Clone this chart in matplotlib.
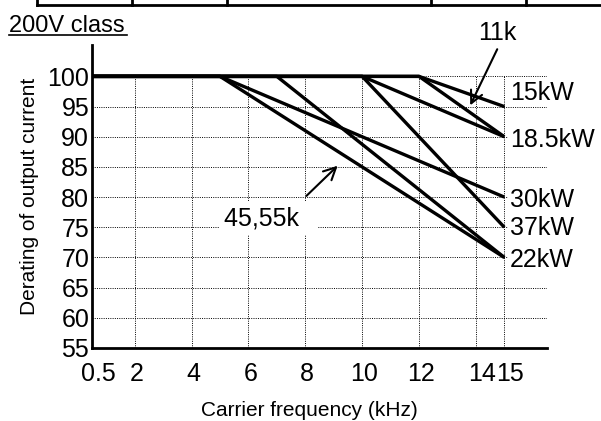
import matplotlib
matplotlib.use("Agg")
import matplotlib.pyplot as plt
from matplotlib.lines import Line2D
from matplotlib.transforms import ScaledTranslation

plt.rcParams["font.family"] = ["Liberation Sans", "DejaVu Sans"]

# derating curves: flat at 100 % up to the knee, then straight down to 15 kHz
series = ["11k", "15kW", "18.5kW", "22kW", "30kW", "37kW", "45,55k"]
knee_khz = [12, 12, 10, 7, 5, 10, 5]
end_pct = [90, 95, 90, 70, 80, 75, 70]
f_start = 0.5
f_end = 15

# labels drawn at the right end of the curves
right_labels = ["15kW", "18.5kW", "30kW", "37kW", "22kW"]
right_label_y = [97.3, 89.5, 79.5, 74.8, 69.5]

x_ticks = [0.5, 2, 4, 6, 8, 10, 12, 14, 15]
x_tick_labels = ["0.5", "2", "4", "6", "8", "10", "12", "14", "15"]
y_ticks = [55, 60, 65, 70, 75, 80, 85, 90, 95, 100]

fig = plt.figure(figsize=(6.01, 4.21), dpi=100)
ax = fig.add_axes([92 / 601, 73 / 421, 455 / 601, 303 / 421])
ax.set_xlim(0.5, 16.5)
ax.set_ylim(55, 105.2)

# dotted grid
dot = dict(color="black", linewidth=0.7, linestyle=(0, (1, 1.3)), zorder=1)
for y in y_ticks[1:]:
    ax.axhline(y, **dot)
ax.vlines(x_ticks[1:], 55, 100, **dot)

for name, k, e in zip(series, knee_khz, end_pct):
    ax.plot([f_start, k, f_end], [100, 100, e], color="black", lw=2.4,
            solid_capstyle="butt", zorder=3)

for lab, y in zip(right_labels, right_label_y):
    ax.text(15.2, y, lab, fontsize=18, ha="left", va="center", zorder=4,
            bbox=dict(boxstyle="square,pad=0.08", fc="white", ec="none"))

ax.text(6.7, 76.5, "45,55k  ", fontsize=18, ha="center", va="center", zorder=4,
        bbox=dict(boxstyle="square,pad=0.2", fc="white", ec="none"))
ax.annotate("", xy=(9.14, 85.2), xytext=(8.04, 80.2),
            arrowprops=dict(arrowstyle="->", lw=1.5, color="black",
                            mutation_scale=22, shrinkA=0, shrinkB=0), zorder=5)

ax.text(14.75, 107.2, "11k", fontsize=18, ha="center", va="center", clip_on=False)
ax.annotate("", xy=(13.8, 95.2), xytext=(14.75, 104.5),
            arrowprops=dict(arrowstyle="->", lw=1.5, color="black",
                            mutation_scale=22, shrinkA=0, shrinkB=0),
            annotation_clip=False, zorder=5)

for s in ["top", "right"]:
    ax.spines[s].set_visible(False)
for s in ["left", "bottom"]:
    ax.spines[s].set_linewidth(2)

ax.set_xticks(x_ticks)
ax.set_xticklabels(x_tick_labels)
ax.set_yticks(y_ticks)
ax.tick_params(axis="both", length=0, labelsize=18)
ax.tick_params(axis="x", pad=10)
ax.tick_params(axis="y", pad=2)
for lab, t in zip(ax.get_xticklabels(), x_ticks):
    shift = 6 if t in (0.5, 14, 15) else 2
    lab.set_transform(lab.get_transform() + ScaledTranslation(shift / 100, 0, fig.dpi_scale_trans))

fig.text(309 / 601, 1 - 410 / 421, "Carrier frequency (kHz)", fontsize=15,
         ha="center", va="center")
ax.set_ylabel("Derating of output current", fontsize=15, labelpad=6)

fig.text(9 / 601, 1 - 32 / 421, "200V class", fontsize=17, ha="left", va="baseline")
fig.add_artist(Line2D([9 / 601, 127 / 601], [1 - 34.5 / 421] * 2, color="black", lw=1.2))

# clipped table border at the very top
fig.add_artist(Line2D([37 / 601, 1], [1 - 4.5 / 421] * 2, color="black", lw=2))
for xv in [37, 132, 227, 431, 526]:
    fig.add_artist(Line2D([xv / 601] * 2, [1 - 4.5 / 421, 1], color="black", lw=2))

fig.savefig("out.png", dpi=100)
